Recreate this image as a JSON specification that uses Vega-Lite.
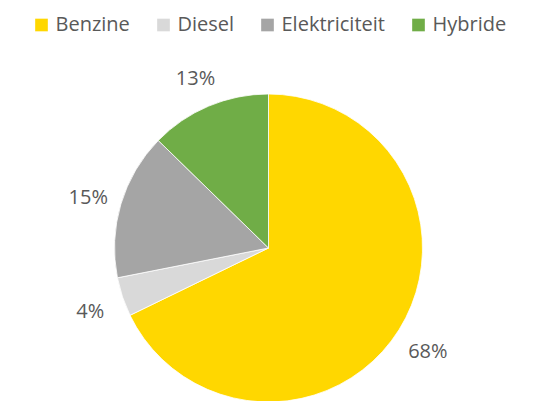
{
  "$schema": "https://vega.github.io/schema/vega-lite/v6.json",
  "autosize": {"type": "none"},
  "width": 308,
  "height": 308,
  "padding": {"left": 114.5, "top": 94, "right": 118.5, "bottom": -1},
  "background": "white",
  "config": {"view": {"stroke": null}, "font": "Open Sans"},
  "data": {
    "values": [
      {"brandstof": "Benzine", "aandeel": 67.8, "label": "68%", "volgorde": 1},
      {"brandstof": "Diesel", "aandeel": 4.1, "label": "4%", "volgorde": 2},
      {"brandstof": "Elektriciteit", "aandeel": 15.4, "label": "15%", "volgorde": 3},
      {"brandstof": "Hybride", "aandeel": 12.7, "label": "13%", "volgorde": 4}
    ]
  },
  "encoding": {
    "theta": {"field": "aandeel", "type": "quantitative", "stack": true},
    "order": {"field": "volgorde", "type": "quantitative"}
  },
  "layer": [
    {
      "mark": {"type": "arc", "stroke": "white", "strokeWidth": 0.8},
      "encoding": {
        "color": {
          "field": "brandstof",
          "type": "nominal",
          "scale": {
            "domain": ["Benzine", "Diesel", "Elektriciteit", "Hybride"],
            "range": ["#FFD700", "#D9D9D9", "#A5A5A5", "#70AD47"]
          },
          "legend": {
            "title": null,
            "orient": "none",
            "direction": "horizontal",
            "legendX": -83,
            "legendY": -79,
            "symbolType": "square",
            "symbolSize": 160,
            "symbolStrokeWidth": 0,
            "symbolOpacity": 1,
            "labelFontSize": 20,
            "labelColor": "#595959",
            "labelFont": "Open Sans",
            "columnPadding": 23,
            "symbolOffset": 0,
            "labelOffset": 4
          }
        }
      }
    },
    {
      "mark": {"type": "text", "radius": 188, "dy": 4, "fontSize": 20, "color": "#595959", "font": "Open Sans"},
      "encoding": {
        "text": {"field": "label", "type": "nominal"}
      }
    }
  ]
}
